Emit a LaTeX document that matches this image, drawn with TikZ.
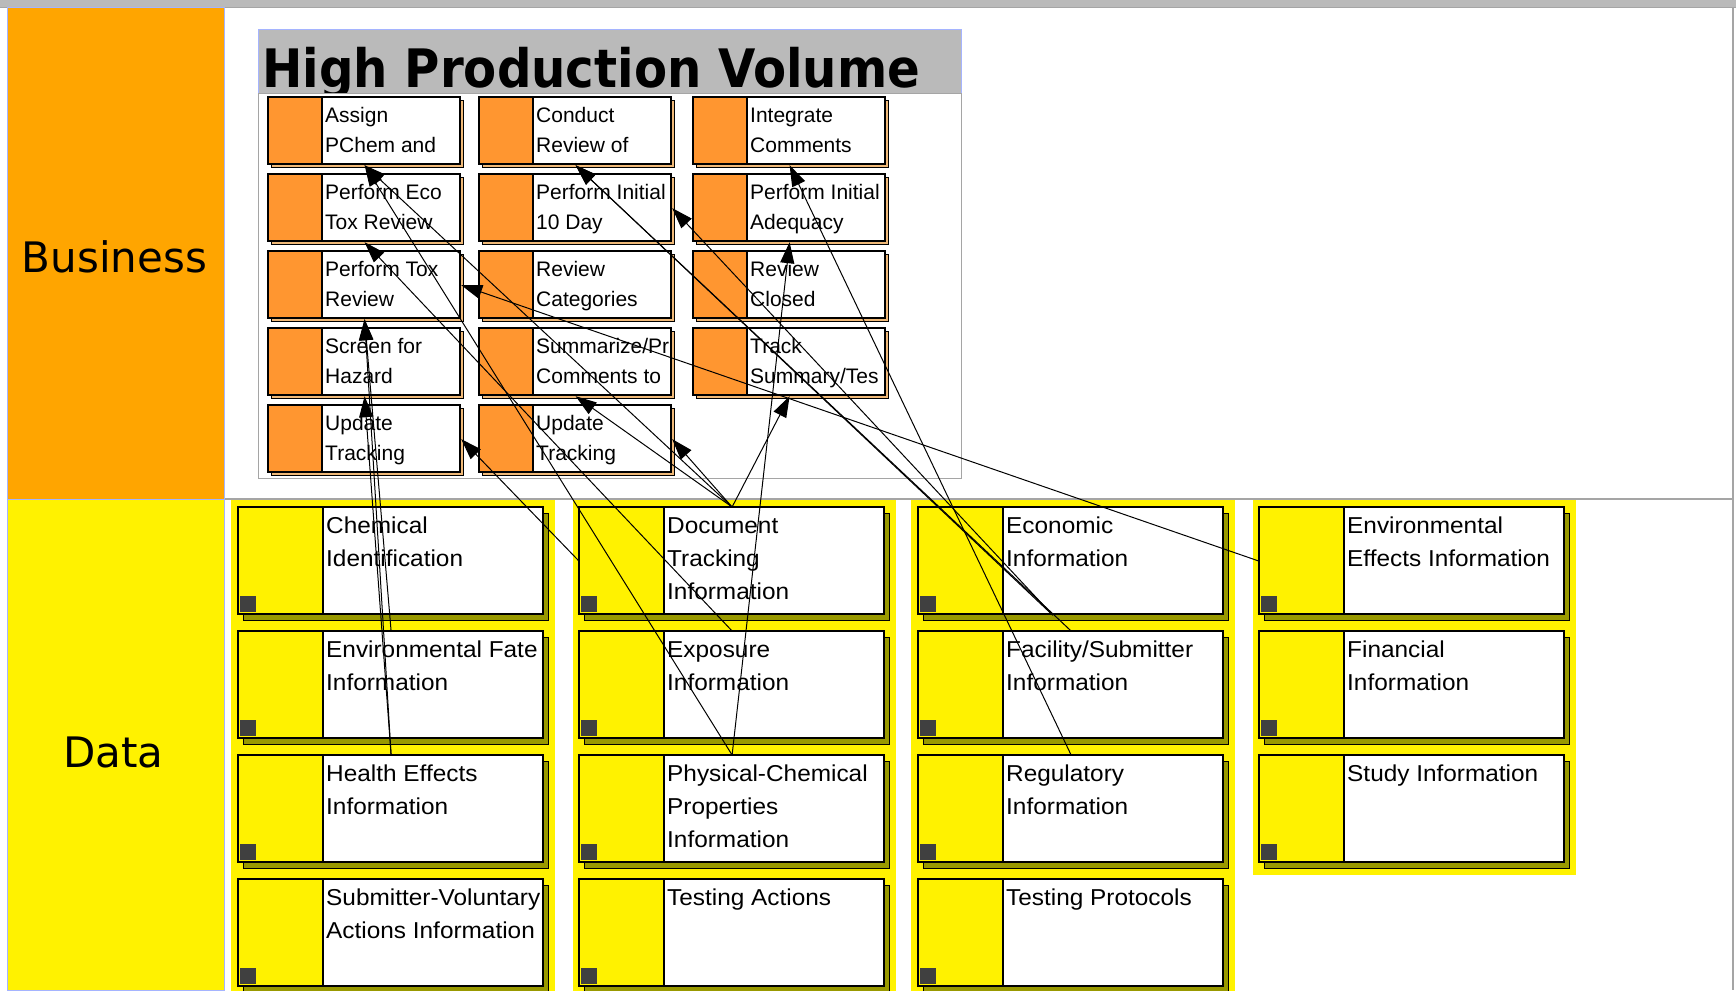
\documentclass[tikz,border=0pt]{standalone}
\usepackage{fontspec}
\setmainfont{Liberation Sans}
\newfontfamily\lanefont{DejaVu Sans}
\newfontfamily\titlefont{DejaVu Sans}[FakeStretch=0.91]
\newfontfamily\dfontfam{Liberation Sans}[FakeStretch=1.06]
\usetikzlibrary{arrows.meta,calc}

\definecolor{laneorange}{RGB}{255,165,0}
\definecolor{boxorange}{RGB}{255,150,48}
\definecolor{bshadow}{RGB}{240,185,120}
\definecolor{dshadow}{RGB}{153,153,0}
\definecolor{laneblue}{RGB}{165,180,255}
\definecolor{titlegray}{RGB}{186,186,186}
\definecolor{framegray}{RGB}{165,165,165}
\definecolor{sqgray}{RGB}{64,64,64}

\tikzset{
  bbox/.style={draw=black, line width=1.2pt, fill=white, minimum width=192pt, minimum height=67pt, inner sep=0pt, anchor=north west},
  dbox/.style={draw=black, line width=1.2pt, fill=white, minimum width=305pt, minimum height=107pt, inner sep=0pt, anchor=north west},
  btext/.style={anchor=north west, inner sep=0pt, align=left, font=\fontsize{21}{30}\selectfont},
  dtext/.style={anchor=north west, inner sep=0pt, align=left, font=\dfontfam\fontsize{23}{33}\selectfont},
  lanelabel/.style={font=\lanefont\fontsize{42}{50}\selectfont, inner sep=0pt},
  conn/.style={line width=1pt, -{Triangle[length=21pt,width=14pt]}}
}

\newcommand\bproc[4]{%
  \filldraw[fill=bshadow, draw=black, line width=0.6pt] (#2+3,#3+3) rectangle (#2+195,#3+70);
  \node[bbox] (#1) at (#2,#3) {};
  \fill[boxorange] (#2,#3) rectangle (#2+54,#3+67);
  \draw[line width=1.2pt] (#2,#3) rectangle (#2+192,#3+67);
  \draw[line width=1.2pt] (#2+54,#3) -- (#2+54,#3+67);
  \node[btext] (#1t) at (#2+57,#3+4) {\strut #4};
}
\newcommand\dent[4]{%
  \filldraw[fill=dshadow, draw=black, line width=0.6pt] (#2+5,#3+6) rectangle (#2+310,#3+113);
  \node[dbox] (#1) at (#2,#3) {};
  \fill[yellow] (#2,#3) rectangle (#2+85,#3+107);
  \fill[sqgray] (#2+2,#3+89) rectangle (#2+18,#3+105);
  \draw[line width=1.2pt] (#2,#3) rectangle (#2+305,#3+107);
  \draw[line width=1.2pt] (#2+85,#3) -- (#2+85,#3+107);
  \node[dtext] (#1t) at (#2+88,#3+3) {\strut #4};
}

\begin{document}
\begin{tikzpicture}[x=1pt,y=-1pt]
\clip (0,0) rectangle (1736,990);
\fill[white] (0,0) rectangle (1736,990);

% top bar and borders
\fill[titlegray] (0,0) rectangle (1736,7.5);
\draw[framegray, line width=1pt] (0,7.5) -- (1736,7.5);
\draw[framegray, line width=1.2pt] (1733,7.5) -- (1733,990);
\draw[framegray, line width=1.2pt] (224,499) -- (1733,499);

% lane labels
\fill[laneorange] (7.5,8) rectangle (224,499);
\fill[yellow] (7.5,499) rectangle (224,990);
\draw[laneblue, line width=1pt] (7.5,8) rectangle (224,499);
\draw[laneblue, line width=1pt] (7.5,499) rectangle (224,990);
\node[lanelabel] (lbus) at (114.5,257) {Business};
\node[lanelabel] (ldat) at (113.5,752) {Data};

% High Production Volume group
\draw[framegray, line width=1pt] (258,30) rectangle (961,478);
\fill[titlegray] (258,30) rectangle (961,93);
\draw[laneblue, line width=1pt] (258,93) -- (258,30) -- (961,30) -- (961,93);
\begin{scope}
  \clip (258,30) rectangle (961,93);
  \node[anchor=base west, inner sep=0pt, font=\titlefont\bfseries\fontsize{53}{60}\selectfont] (title) at (262,87.5) {High Production Volume};
\end{scope}
\draw[framegray, line width=1pt] (258,93) -- (961,93);

\bproc{B11}{268}{97}{Assign\\PChem and}
\bproc{B12}{268}{174}{Perform Eco\\Tox Review}
\bproc{B13}{268}{251}{Perform Tox\\Review}
\bproc{B14}{268}{328}{Screen for\\Hazard}
\bproc{B15}{268}{405}{Update\\Tracking}
\bproc{B21}{479}{97}{Conduct\\Review of}
\bproc{B22}{479}{174}{Perform Initial\\10 Day}
\bproc{B23}{479}{251}{Review\\Categories}
\bproc{B24}{479}{328}{Summarize/Pr\\Comments to}
\bproc{B25}{479}{405}{Update\\Tracking}
\bproc{B31}{693}{97}{Integrate\\Comments}
\bproc{B32}{693}{174}{Perform Initial\\Adequacy}
\bproc{B33}{693}{251}{Review\\Closed}
\bproc{B34}{693}{328}{Track\\Summary/Tes}

% data groups
\fill[yellow] (231,500) rectangle (555,995);
\fill[yellow] (573,500) rectangle (896,995);
\fill[yellow] (911,500) rectangle (1235,995);
\fill[yellow] (1253,500) rectangle (1576,875);

\dent{D11}{238}{507}{Chemical\\Identification}
\dent{D12}{238}{631}{Environmental Fate\\Information}
\dent{D13}{238}{755}{Health Effects\\Information}
\dent{D14}{238}{879}{Submitter-Voluntary\\Actions Information}
\dent{D21}{579}{507}{Document\\Tracking\\Information}
\dent{D22}{579}{631}{Exposure\\Information}
\dent{D23}{579}{755}{Physical-Chemical\\Properties\\Information}
\dent{D24}{579}{879}{Testing Actions}
\dent{D31}{918}{507}{Economic\\Information}
\dent{D32}{918}{631}{Facility/Submitter\\Information}
\dent{D33}{918}{755}{Regulatory\\Information}
\dent{D34}{918}{879}{Testing Protocols}
\dent{D41}{1259}{507}{Environmental\\Effects Information}
\dent{D42}{1259}{631}{Financial\\Information}
\dent{D43}{1259}{755}{Study Information}

% connectors
\coordinate (D31b) at ($(D31.south west)!0.44!(D31.south east)$);
\draw[conn] (D23.north) -- (B11.south);
\draw[conn] (D21.north) -- (B11.south);
\draw[conn] (D22.north) -- (B12.south);
\draw[conn] (D41.west) -- (B13.east);
\draw[conn] (D12.north) -- (B13.south);
\draw[conn] (D13.north) -- (B13.south);
\draw[conn] (D13.north) -- (B14.south);
\draw[conn] (D21.west) -- (B15.east);
\draw[conn] (D32.north) -- (B21.south);
\draw[conn] (D31b) -- (B21.south);
\draw[conn] (D31b) -- (B22.east);
\draw[conn] (D21.north) -- (B24.south);
\draw[conn] (D21.north) -- (B25.east);
\draw[conn] (D33.north) -- (B31.south);
\draw[conn] (D23.north) -- (B32.south);
\draw[conn] (D21.north) -- (B34.south);
\end{tikzpicture}
\end{document}
